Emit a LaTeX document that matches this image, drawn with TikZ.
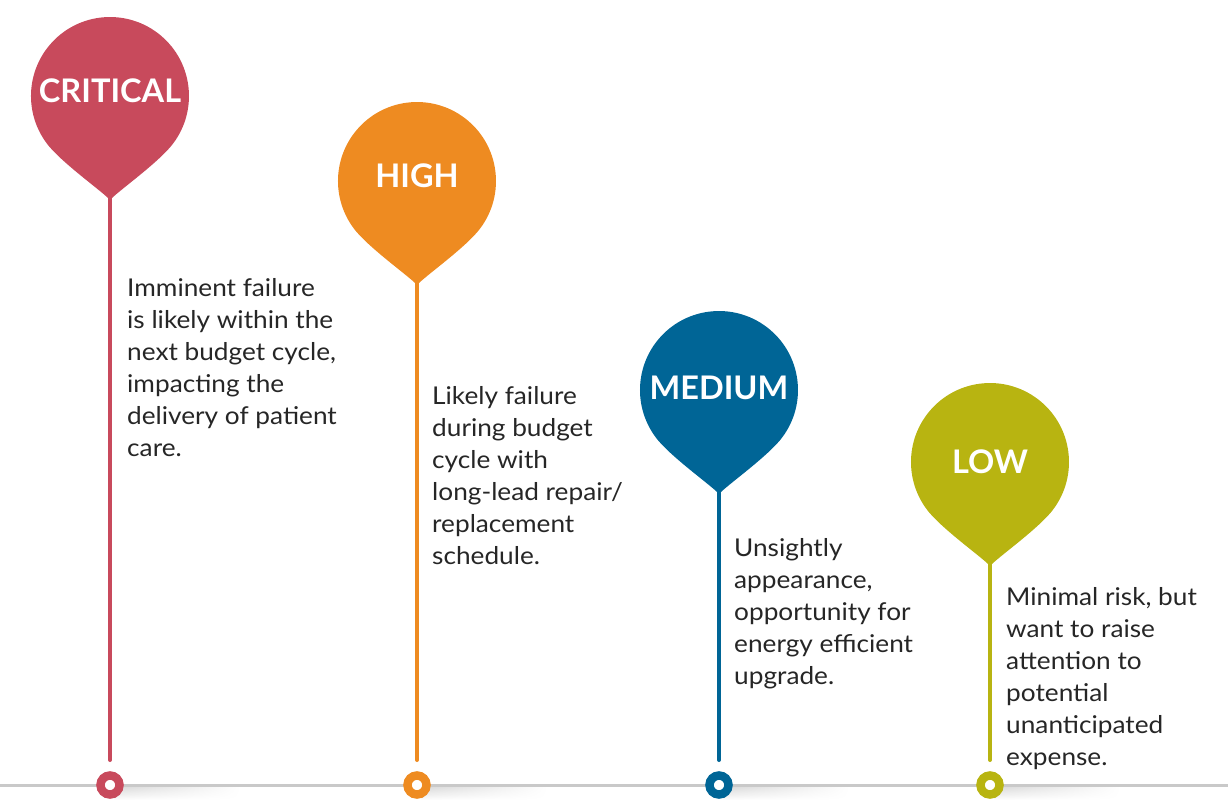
\documentclass[tikz,border=0pt]{standalone}
\usepackage{fontspec}
\setmainfont{Lato}
\newfontfamily\descfont[FakeStretch=1.07]{Lato}
\usetikzlibrary{fadings}
\definecolor{ccrit}{HTML}{C84A5C}
\definecolor{chigh}{HTML}{EE8B21}
\definecolor{cmed}{HTML}{006596}
\definecolor{clow}{HTML}{B8B411}
\definecolor{cbase}{HTML}{C9C9C9}
\tikzset{
  drop/.style={fill=#1, draw=none},
  stem/.style={draw=#1, line width=4pt, line cap=round},
  dot/.style={circle, draw=#1, line width=8.5pt, fill=white, minimum size=19pt, inner sep=0pt},
  pinlabel/.style={text=white, font=\bfseries\fontsize{32.5}{36}\selectfont, inner sep=0pt},
  desc/.style={anchor=north west, align=left, inner sep=0pt, text=black!85, font=\descfont\fontsize{24.5}{32}\selectfont},
  baseline/.style={draw=cbase, line width=3pt},
  softshadow/.style={top color=black!16, bottom color=white, path fading=east}
}
\newcommand\droppath[2]{% center x, center y
  (#1,#2+104) .. controls (#1+7,#2+96) and (#1+44,#2+70) .. (#1+60.5,#2+50.8)
  arc[start angle=40, end angle=-220, radius=79]
  .. controls (#1-44,#2+70) and (#1-7,#2+96) .. cycle}
\begin{document}
\begin{tikzpicture}[x=1pt,y=-1pt]
\useasboundingbox (0,0) rectangle (1228,800);
% shadows
\foreach \cx in {110,417,719,990}{
  \shade[softshadow] (\cx+4,786) rectangle (\cx+130,800);
}
% base line
\coordinate (bl) at (0,785);
\coordinate (br) at (1228,785);
\draw[baseline] (bl) -- (br);

% CRITICAL
\fill[drop=ccrit] \droppath{110}{96};
\coordinate (ctip) at (110,195);
\coordinate (cend) at (110,760);
\draw[stem=ccrit] (ctip) -- (cend);
\node[pinlabel] (clab) at (110,91) {CRITICAL};
\node[dot=ccrit] (cdot) at (110,785) {};
\node[desc] (ctext) at (127,278) {Imminent failure\\is likely within the\\next budget cycle,\\impacting the\\delivery of patient\\care.};

% HIGH
\fill[drop=chigh] \droppath{417}{181};
\coordinate (htip) at (417,280);
\coordinate (hend) at (417,760);
\draw[stem=chigh] (htip) -- (hend);
\node[pinlabel] (hlab) at (417,176) {HIGH};
\node[dot=chigh] (hdot) at (417,785) {};
\node[desc] (htext) at (432,386) {Likely failure\\during budget\\cycle with\\long-lead repair/\\replacement\\schedule.};

% MEDIUM
\fill[drop=cmed] \droppath{719}{390};
\coordinate (mtip) at (719,489);
\coordinate (mend) at (719,760);
\draw[stem=cmed] (mtip) -- (mend);
\node[pinlabel] (mlab) at (719,388) {MEDIUM};
\node[dot=cmed] (mdot) at (719,785) {};
\node[desc] (mtext) at (734,538) {Unsightly\\appearance,\\opportunity for\\energy efficient\\upgrade.};

% LOW
\fill[drop=clow] \droppath{990}{462};
\coordinate (ltip) at (990,561);
\coordinate (lend) at (990,760);
\draw[stem=clow] (ltip) -- (lend);
\node[pinlabel] (llab) at (990,462) {LOW};
\node[dot=clow] (ldot) at (990,785) {};
\node[desc] (ltext) at (1006,587) {Minimal risk, but\\want to raise\\attention to\\potential\\unanticipated\\expense.};
\end{tikzpicture}
\end{document}
